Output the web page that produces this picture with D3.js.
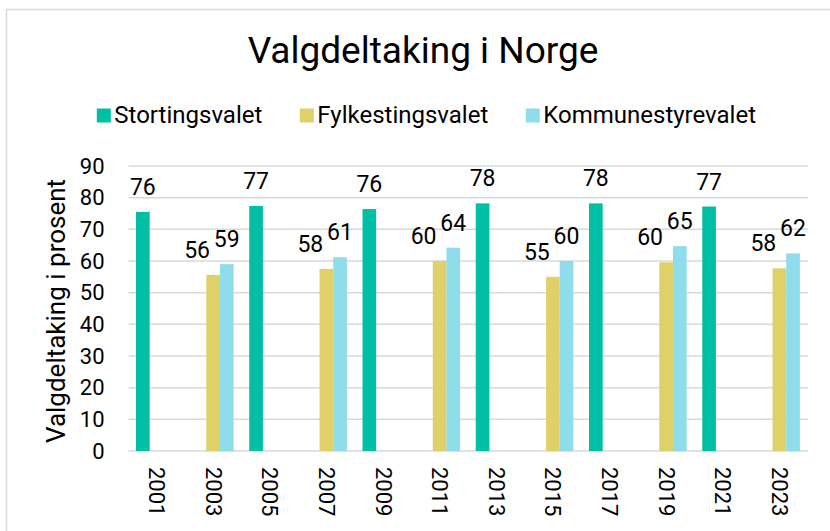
<!DOCTYPE html>
<html>
<head>
<meta charset="utf-8">
<script src="https://cdn.jsdelivr.net/npm/d3@7"></script>
<style>
  body { margin: 0; background: #fff; }
  text { font-family: Roboto, "Noto Sans", sans-serif; fill: #000; }
  .grid line { stroke: #d9d9d9; stroke-width: 1.5; }
</style>
</head>
<body>
<div id="chart"></div>
<script>
// data
const years = ['2001', '2003', '2005', '2007', '2009', '2011', '2013', '2015', '2017', '2019', '2021', '2023']
const seriesNames = ['Stortingsvalet', 'Fylkestingsvalet', 'Kommunestyrevalet']
const storting = [75.5, null, 77.4, null, 76.4, null, 78.2, null, 78.2, null, 77.2, null]
const fylke    = [null, 55.6, null, 57.5, null, 60.0, null, 55.0, null, 59.6, null, 57.7]
const kommune  = [null, 59.0, null, 61.2, null, 64.2, null, 60.0, null, 64.7, null, 62.4]
const yTicks = [0, 10, 20, 30, 40, 50, 60, 70, 80, 90]
const colors = ['#00bfa5', '#e0d06a', '#8fdcea']

const width = 830
const height = 531
const plot = { left: 128.5, right: 808, top: 166, bottom: 451 }

const svg = d3.select('#chart')
    .append('svg')
        .attr('width', width)
        .attr('height', height)

// chart frame
svg.append('rect')
    .attr('x', 6.5).attr('y', 9.5)
    .attr('width', 840).attr('height', 540)
    .attr('fill', 'none')
    .attr('stroke', '#d9d9d9')
    .attr('stroke-width', 1.5)

const x0 = d3.scaleBand().domain(years).range([plot.left, plot.right]).padding(0)
const x1 = d3.scaleBand().domain(seriesNames).range([7.5, 48.5]).padding(0)
const y = d3.scaleLinear().domain([0, 90]).range([plot.bottom, plot.top])

// gridlines
const grid = svg.append('g').attr('class', 'grid')
grid.selectAll('line').data(yTicks).enter().append('line')
    .attr('x1', plot.left).attr('x2', plot.right)
    .attr('y1', d => y(d)).attr('y2', d => y(d))

// y tick labels
svg.append('g').selectAll('text').data(yTicks).enter().append('text')
    .attr('x', 104.5)
    .attr('y', d => y(d))
    .attr('dy', '0.355em')
    .attr('text-anchor', 'end')
    .style('font-size', '22px')
    .text(d => d)

// x tick labels, rotated
svg.append('g').selectAll('text').data(years).enter().append('text')
    .attr('transform', d => `translate(${x0(d) + x0.bandwidth() / 2}, 467) rotate(90)`)
    .attr('dy', '0.355em')
    .style('font-size', '22px')
    .text(d => d)

// bars
const rows = []
years.forEach((yr, i) => {
    [storting, fylke, kommune].forEach((arr, s) => {
        if (arr[i] != null) rows.push({ year: yr, series: seriesNames[s], s: s, value: arr[i] })
    })
})

const bars = svg.append('g')
bars.selectAll('rect').data(rows).enter().append('rect')
    .attr('x', d => x0(d.year) + x1(d.series))
    .attr('y', d => y(d.value))
    .attr('width', x1.bandwidth())
    .attr('height', d => y(0) - y(d.value))
    .attr('fill', d => colors[d.s])

// data labels (fylke label nudged left, like the original)
svg.append('g').selectAll('text').data(rows).enter().append('text')
    .attr('x', d => x0(d.year) + x1(d.series) + x1.bandwidth() / 2 + (d.s === 1 ? -16 : 0))
    .attr('y', d => y(d.value) - 17)
    .attr('text-anchor', 'middle')
    .style('font-size', '23px')
    .text(d => d3.format('.0f')(d.value))

// axis title
svg.append('text')
    .attr('transform', 'translate(65, 311) rotate(-90)')
    .attr('text-anchor', 'middle')
    .style('font-size', '26px')
    .text('Valgdeltaking i prosent')

// title
svg.append('text')
    .attr('x', 423)
    .attr('y', 63)
    .attr('text-anchor', 'middle')
    .style('font-size', '37px')
    .text('Valgdeltaking i Norge')

// legend
const legend = svg.append('g')
const items = legend.selectAll('g').data(seriesNames).enter().append('g')
items.append('rect')
    .attr('width', 14).attr('height', 14)
    .attr('y', 108.5)
    .attr('fill', (d, i) => colors[i])
items.append('text')
    .attr('x', 17.5)
    .attr('y', 123)
    .style('font-size', '24px')
    .text(d => d)

let pos = 0
const offsets = []
items.each(function() {
    offsets.push(pos)
    pos += 17.5 + this.querySelector('text').getComputedTextLength() + 37.5
})
const total = pos - 37.5
const start = 426.4 - total / 2
items.attr('transform', (d, i) => `translate(${start + offsets[i]}, 0)`)
</script>
</body>
</html>
